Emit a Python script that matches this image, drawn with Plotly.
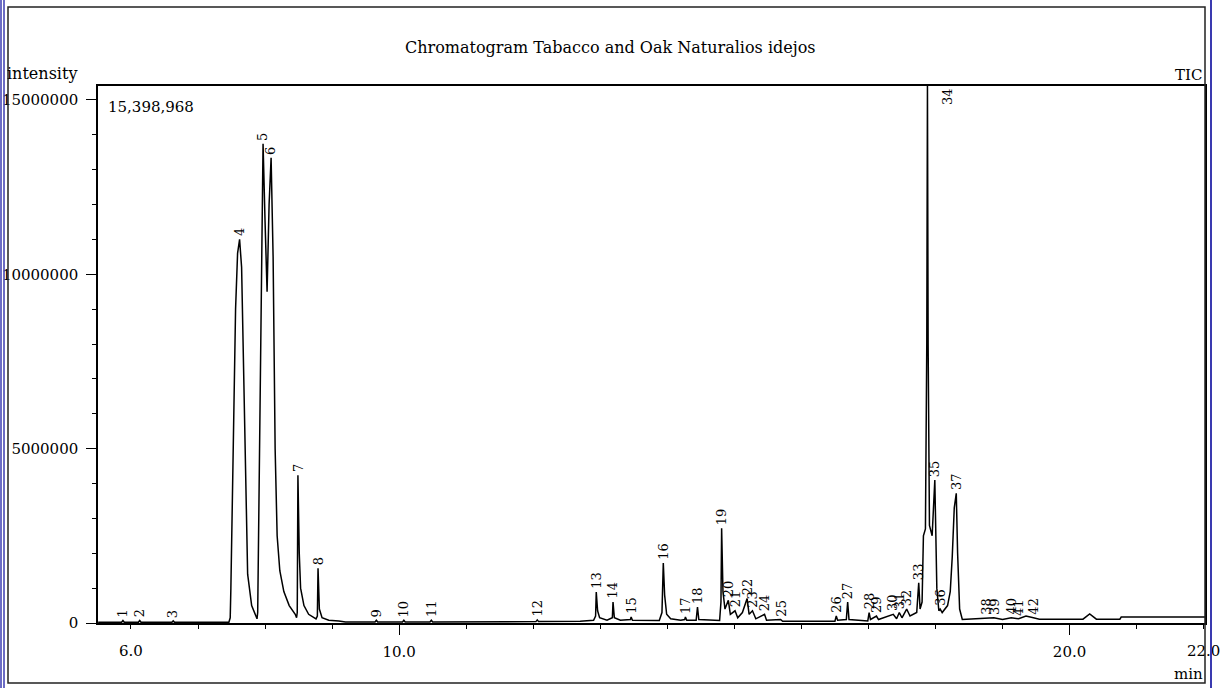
import plotly.graph_objects as go

# ---------------- data ----------------
# TIC trace vertices: retention time (min) and intensity (counts)
rt_min = [5.51, 5.86, 5.88, 5.90, 6.11, 6.13, 6.15, 6.61, 6.63, 6.65, 7.46, 7.48, 7.49, 7.51, 7.53,
          7.56, 7.59, 7.62, 7.65, 7.68, 7.70, 7.74, 7.80, 7.88, 7.89, 7.91, 7.94, 7.97, 8.00, 8.03,
          8.06, 8.09, 8.12, 8.15, 8.18, 8.22, 8.28, 8.36, 8.45, 8.47, 8.48, 8.49, 8.51, 8.53, 8.58,
          8.65, 8.76, 8.78, 8.79, 8.81, 8.85, 8.95, 9.10, 9.20, 9.64, 9.66, 9.68, 10.05, 10.07, 10.09,
          10.46, 10.48, 10.50, 12.04, 12.06, 12.08, 12.70, 12.90, 12.93, 12.94, 12.96, 12.99, 13.10,
          13.18, 13.19, 13.21, 13.30, 13.45, 13.46, 13.48, 13.88, 13.92, 13.94, 13.96, 13.99, 14.05,
          14.20, 14.26, 14.27, 14.29, 14.43, 14.45, 14.47, 14.78, 14.80, 14.81, 14.83, 14.86, 14.91,
          14.94, 15.01, 15.05, 15.12, 15.19, 15.22, 15.27, 15.32, 15.45, 15.48, 15.69, 15.72, 16.50,
          16.52, 16.54, 16.67, 16.69, 16.71, 16.99, 17.01, 17.03, 17.12, 17.15, 17.37, 17.42, 17.46,
          17.50, 17.57, 17.62, 17.72, 17.75, 17.77, 17.80, 17.82, 17.85, 17.87, 17.88, 17.89, 17.91,
          17.95, 17.99, 18.02, 18.05, 18.07, 18.10, 18.18, 18.22, 18.25, 18.28, 18.31, 18.33, 18.36,
          18.40, 18.60, 18.76, 18.87, 19.00, 19.13, 19.24, 19.35, 19.46, 19.55, 20.20, 20.30, 20.40,
          20.75, 20.77, 22.02]
intensity = [20000, 20000, 70000, 20000, 20000, 70000, 20000, 20000, 60000, 20000, 20000, 150000,
             1000000, 3000000, 6000000, 9000000, 10600000, 11000000, 10200000, 7000000, 4500000,
             1400000, 500000, 120000, 300000, 4000000, 10000000, 13740000, 11500000, 9500000,
             12000000, 13340000, 10500000, 5000000, 2500000, 1500000, 900000, 500000, 250000, 150000,
             300000, 4240000, 2000000, 1000000, 500000, 250000, 120000, 200000, 1570000, 400000,
             150000, 80000, 60000, 30000, 30000, 80000, 30000, 30000, 80000, 30000, 30000, 80000,
             30000, 40000, 90000, 40000, 50000, 80000, 200000, 890000, 350000, 150000, 80000, 150000,
             600000, 150000, 80000, 100000, 170000, 80000, 70000, 300000, 1720000, 800000, 250000,
             120000, 80000, 100000, 170000, 80000, 80000, 460000, 100000, 70000, 600000, 2720000,
             900000, 400000, 650000, 250000, 350000, 150000, 300000, 700000, 250000, 350000, 120000,
             250000, 80000, 100000, 50000, 50000, 200000, 80000, 100000, 600000, 100000, 60000,
             300000, 100000, 200000, 100000, 250000, 120000, 300000, 150000, 400000, 200000, 300000,
             1150000, 400000, 600000, 2500000, 2700000, 8000000, 15398968, 8000000, 2800000, 2500000,
             4100000, 1000000, 350000, 400000, 300000, 500000, 900000, 1900000, 3300000, 3720000,
             2000000, 400000, 100000, 120000, 150000, 150000, 100000, 150000, 120000, 200000, 150000,
             110000, 110000, 260000, 110000, 110000, 170000, 170000]

# peak numbers, retention times and apex heights
peak_no = list(range(1, 43))
peak_rt = [5.88, 6.13, 6.63, 7.62, 7.97, 8.09, 8.49, 8.79, 9.66, 10.07, 10.48, 12.06, 12.94, 13.19,
           13.46, 13.94, 14.27, 14.45, 14.81, 14.91, 15.01, 15.19, 15.27, 15.45, 15.69, 16.52, 16.69,
           17.01, 17.12, 17.37, 17.46, 17.57, 17.75, 17.88, 17.99, 18.07, 18.31, 18.76, 18.87, 19.13,
           19.24, 19.46]
peak_height = [70000, 70000, 60000, 11000000, 13740000, 13340000, 4240000, 1570000, 80000, 80000,
               80000, 90000, 890000, 600000, 170000, 1720000, 170000, 460000, 2720000, 650000,
               350000, 700000, 350000, 250000, 100000, 200000, 600000, 300000, 200000, 250000,
               300000, 400000, 1150000, 15398968, 4100000, 400000, 3720000, 150000, 150000, 150000,
               120000, 150000]

x_tick_vals = [10.0, 20.0]
x_tick_text = ["10.0", "20.0"]
x_edge_vals = [6.0, 22.0]
x_edge_text = ["6.0", "22.0"]
y_tick_vals = [0, 5000000, 10000000, 15000000]
y_tick_text = ["0", "5000000", "10000000", "15000000"]
max_label = "15,398,968"
title_text = "Chromatogram Tabacco and Oak Naturalios idejos"

# ---------------- layout geometry ----------------
W, H = 1222, 688
L, R, T, B = 98, 17, 86, 65
PW, PH = W - L - R, H - T - B
X_RANGE = [5.508, 22.02]
Y_RANGE = [0, 15398968]
FONT = "DejaVu Serif"


def px(x):
    return (x - L) / PW


def py(y):
    return (H - B - y) / PH


fig = go.Figure()
fig.add_trace(go.Scatter(x=rt_min, y=intensity, mode="lines",
                         line=dict(color="black", width=1.5), hoverinfo="skip",
                         showlegend=False))
# invisible trace for the secondary x axis (edge labels)
fig.add_trace(go.Scatter(x=[X_RANGE[0]], y=[0], xaxis="x2", mode="markers",
                         marker=dict(opacity=0), showlegend=False, hoverinfo="skip"))

annotations = []
for n, t, h in zip(peak_no, peak_rt, peak_height):
    if n == 34:
        annotations.append(dict(x=t, y=h, xref="x", yref="y", text=str(n), showarrow=False,
                                textangle=-90, xanchor="center", yanchor="top", xshift=20,
                                font=dict(family=FONT, size=13, color="black")))
    else:
        annotations.append(dict(x=t, y=h, xref="x", yref="y", text=str(n), showarrow=False,
                                textangle=-90, xanchor="center", yanchor="bottom", yshift=1,
                                font=dict(family=FONT, size=13, color="black")))

annotations += [
    dict(x=px(610), y=py(48), xref="paper", yref="paper", text=title_text, showarrow=False,
         xanchor="center", yanchor="middle", font=dict(family=FONT, size=16, color="black")),
    dict(x=px(5), y=py(73), xref="paper", yref="paper", text="intensity", showarrow=False,
         xanchor="left", yanchor="middle", font=dict(family=FONT, size=16, color="black")),
    dict(x=px(1204), y=py(75), xref="paper", yref="paper", text="TIC", showarrow=False,
         xanchor="right", yanchor="middle", font=dict(family=FONT, size=15, color="black")),
    dict(x=px(106), y=py(107), xref="paper", yref="paper", text=max_label, showarrow=False,
         xanchor="left", yanchor="middle", font=dict(family=FONT, size=15, color="black")),
    dict(x=px(1205), y=py(674), xref="paper", yref="paper", text="min", showarrow=False,
         xanchor="right", yanchor="middle", font=dict(family=FONT, size=15, color="black")),
]

shapes = [
    # outer frame
    dict(type="rect", xref="paper", yref="paper", x0=px(8), x1=px(1205), y0=py(683), y1=py(7),
         line=dict(color="#222222", width=1.5)),
    # blue window edges
    dict(type="line", xref="paper", yref="paper", x0=px(1), x1=px(1), y0=py(0), y1=py(688),
         line=dict(color="#3a3ab0", width=1.5)),
    dict(type="line", xref="paper", yref="paper", x0=px(4), x1=px(4), y0=py(0), y1=py(688),
         line=dict(color="#3a3ab0", width=1.5)),
    dict(type="line", xref="paper", yref="paper", x0=px(1211), x1=px(1211), y0=py(0), y1=py(688),
         line=dict(color="#3a3ab0", width=2)),
]

fig.update_layout(
    width=W, height=H,
    margin=dict(l=L, r=R, t=T, b=B, pad=0, autoexpand=False),
    paper_bgcolor="white", plot_bgcolor="white",
    showlegend=False,
    font=dict(family=FONT, size=15, color="black"),
    xaxis=dict(range=X_RANGE, automargin=False, showgrid=False, zeroline=False, showline=True,
               linecolor="black", linewidth=1.5, mirror=True, ticks="outside", ticklen=10,
               tickcolor="black", tickvals=x_tick_vals, ticktext=x_tick_text, ticklabelstandoff=4,
               tickfont=dict(family=FONT, size=15, color="black"),
               minor=dict(tickmode="linear", tick0=0, dtick=1, ticks="outside", ticklen=4,
                          tickcolor="black", showgrid=False)),
    xaxis2=dict(range=X_RANGE, automargin=False, overlaying="x", side="bottom", showgrid=False,
                zeroline=False, showline=False, ticks="outside", ticklen=10,
                tickcolor="rgba(0,0,0,0)", tickvals=x_edge_vals, ticktext=x_edge_text,
                ticklabelstandoff=4, tickfont=dict(family=FONT, size=15, color="black")),
    yaxis=dict(range=Y_RANGE, automargin=False, showgrid=False, zeroline=False, showline=True,
               linecolor="black", linewidth=1.5, mirror=True, ticks="outside", ticklen=10,
               tickcolor="black", tickvals=y_tick_vals, ticktext=y_tick_text, ticklabelstandoff=5,
               tickfont=dict(family=FONT, size=15, color="black"),
               minor=dict(tickmode="linear", tick0=0, dtick=1000000, ticks="outside", ticklen=4,
                          tickcolor="black", showgrid=False)),
    annotations=annotations,
    shapes=shapes,
)

fig.write_html("out.html")
